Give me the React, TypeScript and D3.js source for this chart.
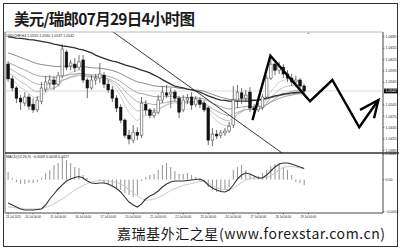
import React from 'react';
import * as d3 from 'd3';

const W = 400;
const H = 249;

// USDCHF H4 candles
const opens = [1.0613, 1.0574, 1.0550, 1.0523, 1.0510, 1.0526, 1.0507, 1.0492, 1.0515, 1.0547, 1.0563, 1.0571, 1.0560, 1.0582, 1.0645, 1.0608, 1.0613, 1.0605, 1.0624, 1.0571, 1.0550, 1.0571, 1.0576, 1.0584, 1.0560, 1.0545, 1.0523, 1.0499, 1.0465, 1.0425, 1.0412, 1.0433, 1.0425, 1.0507, 1.0492, 1.0478, 1.0486, 1.0518, 1.0537, 1.0534, 1.0539, 1.0523, 1.0492, 1.0518, 1.0526, 1.0507, 1.0518, 1.0510, 1.0497, 1.0412, 1.0428, 1.0425, 1.0431, 1.0436, 1.0452, 1.0518, 1.0537, 1.0523, 1.0539, 1.0497, 1.0492, 1.0499, 1.0526, 1.0576, 1.0613, 1.0597, 1.0605, 1.0587, 1.0576, 1.0566, 1.0571, 1.0555];
const highs = [1.0621, 1.0582, 1.0555, 1.0531, 1.0539, 1.0534, 1.0523, 1.0529, 1.0566, 1.0582, 1.0584, 1.0582, 1.0592, 1.0666, 1.0651, 1.0624, 1.0629, 1.0637, 1.0637, 1.0576, 1.0584, 1.0587, 1.0616, 1.0592, 1.0571, 1.0555, 1.0531, 1.0507, 1.0470, 1.0439, 1.0452, 1.0446, 1.0526, 1.0518, 1.0497, 1.0497, 1.0531, 1.0555, 1.0558, 1.0550, 1.0545, 1.0529, 1.0531, 1.0534, 1.0539, 1.0529, 1.0526, 1.0518, 1.0502, 1.0444, 1.0439, 1.0439, 1.0444, 1.0460, 1.0555, 1.0558, 1.0550, 1.0545, 1.0552, 1.0507, 1.0510, 1.0534, 1.0584, 1.0629, 1.0624, 1.0619, 1.0613, 1.0597, 1.0587, 1.0582, 1.0576, 1.0560];
const lows = [1.0566, 1.0542, 1.0510, 1.0492, 1.0502, 1.0492, 1.0484, 1.0486, 1.0507, 1.0539, 1.0550, 1.0545, 1.0555, 1.0576, 1.0597, 1.0597, 1.0592, 1.0597, 1.0563, 1.0523, 1.0545, 1.0558, 1.0563, 1.0550, 1.0537, 1.0513, 1.0486, 1.0457, 1.0417, 1.0401, 1.0404, 1.0412, 1.0417, 1.0478, 1.0470, 1.0470, 1.0481, 1.0510, 1.0523, 1.0497, 1.0515, 1.0470, 1.0486, 1.0507, 1.0492, 1.0499, 1.0497, 1.0486, 1.0399, 1.0396, 1.0415, 1.0417, 1.0423, 1.0431, 1.0444, 1.0497, 1.0507, 1.0513, 1.0486, 1.0484, 1.0486, 1.0492, 1.0521, 1.0571, 1.0584, 1.0587, 1.0576, 1.0566, 1.0555, 1.0552, 1.0547, 1.0537];
const closes = [1.0574, 1.0550, 1.0523, 1.0513, 1.0526, 1.0502, 1.0492, 1.0518, 1.0550, 1.0566, 1.0571, 1.0560, 1.0582, 1.0653, 1.0605, 1.0616, 1.0603, 1.0619, 1.0571, 1.0550, 1.0571, 1.0576, 1.0587, 1.0560, 1.0545, 1.0523, 1.0497, 1.0465, 1.0425, 1.0415, 1.0433, 1.0425, 1.0510, 1.0492, 1.0478, 1.0486, 1.0518, 1.0539, 1.0531, 1.0539, 1.0523, 1.0486, 1.0518, 1.0523, 1.0505, 1.0521, 1.0507, 1.0492, 1.0412, 1.0428, 1.0423, 1.0431, 1.0436, 1.0449, 1.0518, 1.0539, 1.0523, 1.0531, 1.0497, 1.0492, 1.0502, 1.0526, 1.0576, 1.0613, 1.0597, 1.0608, 1.0587, 1.0576, 1.0566, 1.0571, 1.0555, 1.0542];

// slow moving average (dark line)
const slowMA = [1.0685, 1.0684, 1.0682, 1.0681, 1.0680, 1.0678, 1.0677, 1.0675, 1.0673, 1.0671, 1.0669, 1.0666, 1.0664, 1.0661, 1.0660, 1.0658, 1.0656, 1.0653, 1.0651, 1.0647, 1.0643, 1.0637, 1.0632, 1.0628, 1.0624, 1.0621, 1.0619, 1.0615, 1.0611, 1.0608, 1.0605, 1.0601, 1.0597, 1.0594, 1.0590, 1.0584, 1.0579, 1.0572, 1.0566, 1.0560, 1.0555, 1.0552, 1.0550, 1.0547, 1.0545, 1.0542, 1.0539, 1.0534, 1.0529, 1.0525, 1.0521, 1.0518, 1.0517, 1.0515, 1.0515, 1.0515, 1.0515, 1.0515, 1.0515, 1.0517, 1.0518, 1.0521, 1.0523, 1.0526, 1.0529, 1.0531, 1.0534, 1.0535, 1.0537, 1.0538, 1.0539, 1.0539];

// EMA ribbon settings
const emaPeriods = [8, 13, 21, 34, 55];
const emaSeeds = [1.0580, 1.0592, 1.0605, 1.0619, 1.0645];
const emaColors = ['#c4c4c4', '#b0b0b0', '#a0a0a0', '#8e8e8e', '#6e6e6e'];

// MACD(12,26,9)
const macdHist = [0.00123, 0.00026, -0.00039, -0.00071, -0.00071, -0.00055, -0.00055, -0.00039, 0.00026, 0.00107, 0.00155, 0.00236, 0.00268, 0.00365, 0.00317, 0.00268, 0.00204, 0.00188, 0.00074, 0.00026, 0.00002, -0.00006, -0.00023, -0.00055, -0.00087, -0.00120, -0.00136, -0.00168, -0.00217, -0.00249, -0.00281, -0.00249, -0.00023, 0.00042, 0.00074, 0.00091, 0.00155, 0.00236, 0.00268, 0.00204, 0.00139, 0.00091, 0.00091, 0.00107, 0.00074, 0.00042, -0.00023, -0.00039, -0.00120, -0.00168, -0.00201, -0.00201, -0.00168, -0.00120, 0.00155, 0.00204, 0.00236, 0.00155, 0.00074, 0.00042, 0.00058, 0.00107, 0.00155, 0.00220, 0.00252, 0.00268, 0.00204, 0.00155, 0.00074, -0.00039, -0.00055, -0.00087];
const macdMain = [-0.00378, -0.00411, -0.00443, -0.00475, -0.00491, -0.00491, -0.00491, -0.00483, -0.00475, -0.00411, -0.00314, -0.00233, -0.00152, -0.00087, -0.00023, 0.00010, 0.00034, 0.00050, 0.00026, -0.00023, -0.00055, -0.00063, -0.00055, -0.00055, -0.00071, -0.00103, -0.00144, -0.00200, -0.00281, -0.00362, -0.00411, -0.00443, -0.00394, -0.00314, -0.00265, -0.00233, -0.00184, -0.00120, -0.00071, -0.00039, -0.00023, -0.00023, -0.00023, -0.00015, -0.00006, 0.00002, 0.00010, -0.00023, -0.00087, -0.00136, -0.00168, -0.00192, -0.00200, -0.00168, -0.00087, 0.00010, 0.00074, 0.00107, 0.00091, 0.00058, 0.00026, 0.00026, 0.00074, 0.00139, 0.00204, 0.00252, 0.00268, 0.00268, 0.00252, 0.00228, 0.00204, 0.00179];
const macdSignal = [-0.00443, -0.00451, -0.00459, -0.00467, -0.00475, -0.00475, -0.00475, -0.00475, -0.00467, -0.00451, -0.00427, -0.00394, -0.00354, -0.00314, -0.00265, -0.00217, -0.00168, -0.00128, -0.00095, -0.00063, -0.00039, -0.00023, -0.00015, -0.00015, -0.00023, -0.00031, -0.00047, -0.00071, -0.00112, -0.00160, -0.00217, -0.00265, -0.00306, -0.00330, -0.00330, -0.00314, -0.00289, -0.00257, -0.00217, -0.00176, -0.00144, -0.00120, -0.00095, -0.00079, -0.00063, -0.00047, -0.00031, -0.00031, -0.00055, -0.00095, -0.00128, -0.00152, -0.00160, -0.00160, -0.00136, -0.00095, -0.00047, -0.00006, 0.00018, 0.00026, 0.00026, 0.00026, 0.00034, 0.00058, 0.00107, 0.00155, 0.00196, 0.00212, 0.00212, 0.00204, 0.00188, 0.00171];

// axis labels
const priceTicks = [1.0685, 1.0655, 1.0625, 1.0595, 1.0565, 1.0505, 1.0475, 1.0445, 1.0415, 1.0385];
const macdTicks = [0.0041, 0, -0.0052];
const timeLabelBars = [0, 6, 12, 18, 24, 30, 36, 42, 48, 54, 60, 66, 72];
const timeLabels = ['13 Jul 2015', '14 Jul 00:00', '15 Jul 00:00', '16 Jul 00:00', '17 Jul 00:00', '20 Jul 00:00', '21 Jul 00:00', '22 Jul 00:00', '23 Jul 00:00', '24 Jul 00:00', '27 Jul 00:00', '28 Jul 00:00', '29 Jul 00:00'];

// trend line anchors (bar index, price)
const trendBars = [25.2, 65.7];
const trendPrices = [1.0698, 1.0378];

// projected path (bar index, price)
const projBars = [58.6, 62.9, 72.4, 77.75, 84.2, 88.8];
const projPrices = [1.0465, 1.0635, 1.0515, 1.0571, 1.0446, 1.0518];
const arrowBars = [84.4, 88.8, 87.75];
const arrowPrices = [1.0492, 1.0518, 1.0470];

const titleText = '美元/瑞郎07月29日4小时图';
const footerText = '嘉瑞基外汇之星(www.forexstar.com.cn)';

function ema(values: number[], period: number, seed: number): number[] {
  const a = 2 / (period + 1);
  let prev = seed;
  return values.map((v) => (prev = a * v + (1 - a) * prev));
}

export default function App() {
  const left = 5;
  const axisX = 383;
  const mainTop = 32;
  const mainBottom = 153;
  const macdBottom = 213;

  const x = d3.scaleLinear().domain([-0.5, 89.9]).range([6, axisX]);
  const y = d3.scaleLinear().domain([1.0378, 1.0698]).range([mainBottom, mainTop]);
  const ym = d3.scaleLinear().domain([-0.0054, 0.0043]).range([macdBottom, mainBottom]);

  const step = x(1) - x(0);
  const bodyW = step * 0.62;
  const n = closes.length;
  const lineP = d3.line<number>().x((_, i) => x(i)).y((d) => y(d));
  const lineM = d3.line<number>().x((_, i) => x(i)).y((d) => ym(d));
  const ribbons = emaPeriods.map((p, k) => ema(closes, p, emaSeeds[k]));

  const fmt = d3.format('.4f');
  const last = n - 1;
  const header = `USDCHF,H4  ${fmt(opens[last])} ${fmt(highs[last])} ${fmt(lows[last])} ${fmt(closes[last])}`;
  const macdHeader = `MACD(12,26,9)  ${fmt(macdHist[last])} ${fmt(macdMain[last])} ${fmt(macdSignal[last])}`;

  const proj = d3.line<number>().x((d) => x(d)).y((_, i) => y(projPrices[i]));
  const arrow = d3.line<number>().x((d) => x(d)).y((_, i) => y(arrowPrices[i]));
  const trend = d3.line<number>().x((d) => x(d)).y((_, i) => y(trendPrices[i]));

  const tiny = { fontFamily: 'Liberation Sans, Arial, sans-serif', fontSize: 3.6, fill: '#222' } as const;
  const timeFont = { fontFamily: 'Liberation Sans, Arial, sans-serif', fontSize: 2.9, fill: '#222' } as const;

  return (
    <svg width={W} height={H} viewBox={`0 0 ${W} ${H}`} style={{ position: 'absolute', left: 0, top: 0, background: '#fff' }}>
      <defs>
        <clipPath id="mainClip">
          <rect x={left} y={mainTop} width={axisX - left} height={mainBottom - mainTop} />
        </clipPath>
        <clipPath id="macdClip">
          <rect x={left} y={mainBottom} width={axisX - left} height={macdBottom - mainBottom} />
        </clipPath>
      </defs>
      <rect x={0} y={0} width={W} height={H} fill="#fff" />
      <rect x={3.5} y={3.5} width={394} height={243} fill="none" stroke="#333" strokeWidth={1} />

      <text x={14} y={24.5} fontFamily="'Noto Sans CJK SC', sans-serif" fontWeight={700} fontSize={15.5} fill="#1a1a1a" textLength={181} lengthAdjust="spacing">
        {titleText}
      </text>

      {/* panel frame */}
      <line x1={left} x2={axisX} y1={mainTop} y2={mainTop} stroke="#aaa" strokeWidth={0.8} />
      <line x1={left} x2={left} y1={mainTop} y2={macdBottom} stroke="#444" strokeWidth={0.8} />
      <line x1={axisX} x2={axisX} y1={mainTop} y2={macdBottom} stroke="#333" strokeWidth={0.9} />
      <line x1={left} x2={axisX + 16} y1={mainBottom} y2={mainBottom} stroke="#333" strokeWidth={1.6} />
      <line x1={left} x2={axisX} y1={macdBottom} y2={macdBottom} stroke="#333" strokeWidth={0.9} />
      <path d={`M${x(72)},${mainTop}l-1.2,2h2.4z`} fill="#999" />

      <text x={6} y={36.5} {...tiny}>{header}</text>

      <g clipPath="url(#mainClip)">
        {/* last price line */}
        <line x1={left} x2={axisX} y1={y(closes[last])} y2={y(closes[last])} stroke="#ccc" strokeWidth={0.7} />
        {ribbons.map((r, k) => (
          <path key={k} d={lineP(r) ?? ''} fill="none" stroke={emaColors[k]} strokeWidth={0.8} />
        ))}
        <path d={lineP(slowMA) ?? ''} fill="none" stroke="#2e2e2e" strokeWidth={1.3} />
        {closes.map((c, i) => {
          const o = opens[i];
          const up = c >= o;
          const top = y(Math.max(o, c));
          const bot = y(Math.min(o, c));
          return (
            <g key={i}>
              <line x1={x(i)} x2={x(i)} y1={y(highs[i])} y2={y(lows[i])} stroke="#333" strokeWidth={0.7} />
              <rect
                x={x(i) - bodyW / 2}
                y={top}
                width={bodyW}
                height={Math.max(0.8, bot - top)}
                fill={up ? '#fff' : '#111'}
                stroke={up ? '#555' : '#111'}
                strokeWidth={0.6}
              />
            </g>
          );
        })}
        <path d={trend(trendBars) ?? ''} fill="none" stroke="#222" strokeWidth={0.9} />
      </g>

      {/* projected path */}
      <path d={proj(projBars) ?? ''} fill="none" stroke="#000" strokeWidth={2.4} strokeLinejoin="miter" />
      <path d={arrow(arrowBars) ?? ''} fill="none" stroke="#000" strokeWidth={2.4} strokeLinejoin="miter" />

      {/* price axis */}
      {priceTicks.map((p) => (
        <g key={p}>
          <line x1={axisX} x2={axisX + 1.5} y1={y(p)} y2={y(p)} stroke="#333" strokeWidth={0.6} />
          <text x={axisX + 2.5} y={y(p) + 1.2} {...tiny}>{fmt(p)}</text>
        </g>
      ))}
      <rect x={axisX + 1} y={y(closes[last]) - 2.4} width={14} height={4.8} fill="#111" />
      <text x={axisX + 2.5} y={y(closes[last]) + 1.2} {...tiny} fill="#fff">{fmt(closes[last])}</text>

      {/* MACD */}
      <text x={6} y={157.5} {...tiny}>{macdHeader}</text>
      <g clipPath="url(#macdClip)">
        {macdHist.map((v, i) => (
          <line key={i} x1={x(i)} x2={x(i)} y1={ym(0)} y2={ym(v)} stroke="#777" strokeWidth={0.8} />
        ))}
        <path d={lineM(macdSignal) ?? ''} fill="none" stroke="#c2c2c2" strokeWidth={0.9} />
        <path d={lineM(macdMain) ?? ''} fill="none" stroke="#333" strokeWidth={1.1} />
      </g>
      {macdTicks.map((v) => (
        <g key={v}>
          <line x1={axisX} x2={axisX + 1.5} y1={ym(v)} y2={ym(v)} stroke="#333" strokeWidth={0.6} />
          <text x={axisX + 2.5} y={ym(v) + 1.2} {...tiny}>{v === 0 ? '0.00' : fmt(v)}</text>
        </g>
      ))}

      {/* time axis */}
      {timeLabelBars.map((b, k) => (
        <g key={b}>
          <line x1={x(b)} x2={x(b)} y1={macdBottom} y2={macdBottom + 1.5} stroke="#333" strokeWidth={0.6} />
          <text
            x={k === 0 ? left + 1 : x(b)}
            y={218}
            {...timeFont}
            textAnchor={k === 0 ? 'start' : 'middle'}
          >
            {timeLabels[k]}
          </text>
        </g>
      ))}

      <text x={117} y={239} fontFamily="'Noto Sans CJK SC', sans-serif" fontSize={14} fill="#1a1a1a" textLength={268} lengthAdjust="spacing">
        {footerText}
      </text>
    </svg>
  );
}
